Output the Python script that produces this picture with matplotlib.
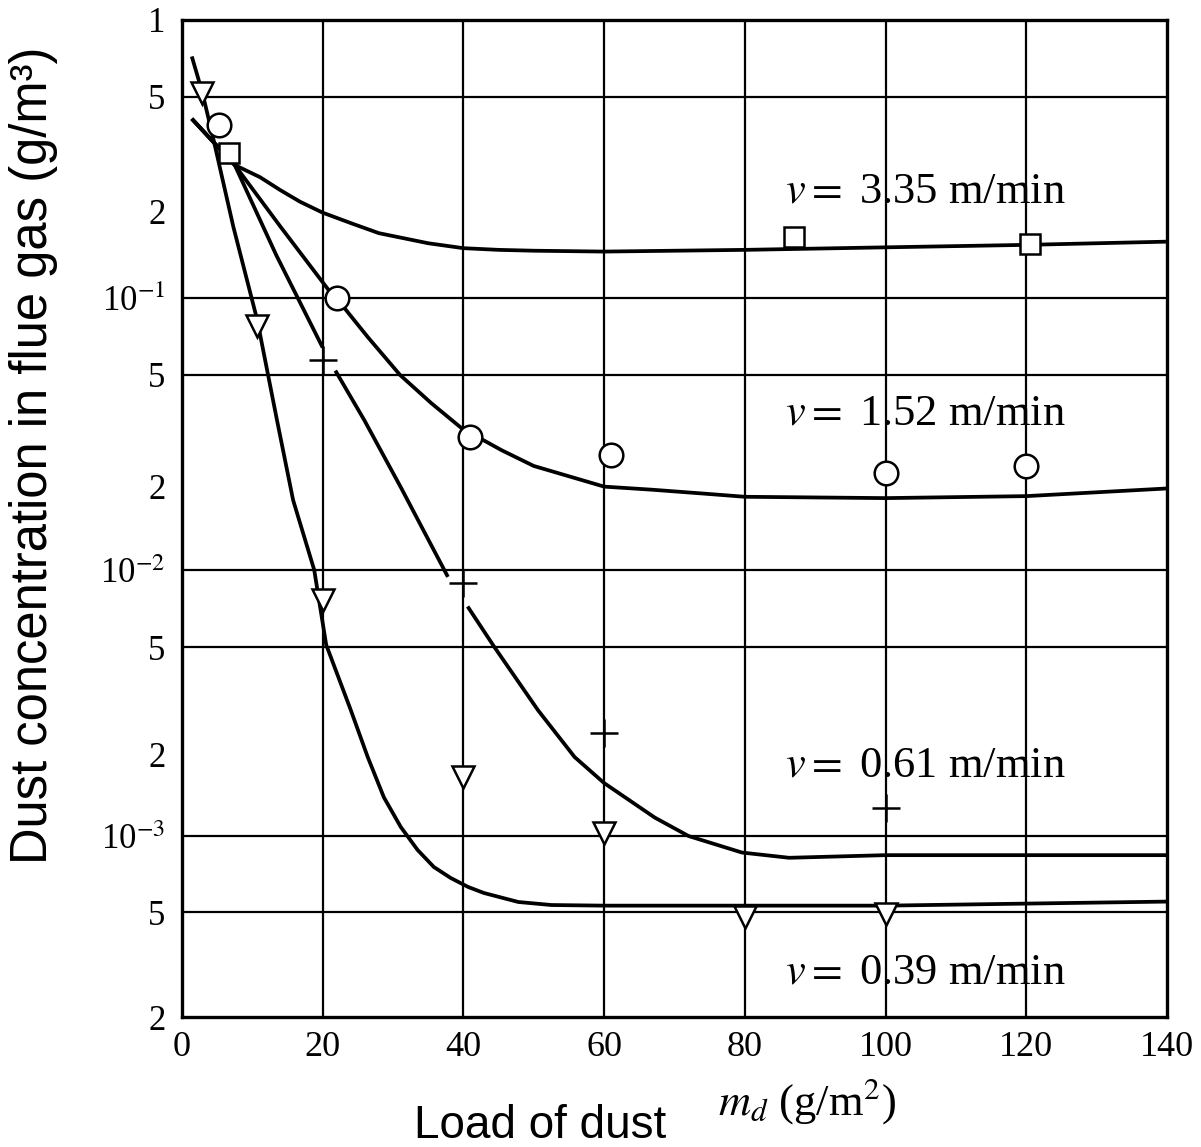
import numpy as np
import matplotlib
matplotlib.use('Agg')
import matplotlib.pyplot as plt

plt.rcParams['mathtext.fontset'] = 'stix'
SERIF = 'Liberation Serif'
SANS = 'Liberation Sans'

# curves (x = load of dust g/m2, y = concentration g/m3)
x_335 = [1.4, 7.5, 11.1, 14, 16.8, 20, 24.3, 28, 35, 40, 45, 50, 60, 80, 100, 120, 140]
y_335 = [0.42, 0.29, 0.263, 0.237, 0.216, 0.198, 0.181, 0.168, 0.155, 0.149, 0.147, 0.146,
         0.145, 0.147, 0.150, 0.153, 0.157]

x_152 = [1.4, 7.5, 14, 21.7, 23, 26.4, 31, 35.4, 39.7, 45.4, 50, 60, 66.8, 74, 80, 100, 120, 140]
y_152 = [0.42, 0.29, 0.177, 0.1, 0.092, 0.0704, 0.05, 0.0397, 0.0323, 0.0269, 0.0236, 0.0199,
         0.0194, 0.0188, 0.0183, 0.0181, 0.0184, 0.0196]

# nan = break in the drawn line
x_061 = [1.4, 7.5, 13.4, 20, np.nan, 21.8, 25.9, 31.1, 37.8, np.nan,
         40.6, 44.4, 50.6, 55.8, 60, 67.2, 72, 79.6, 86.3, 100, 120, 140]
y_061 = [0.42, 0.29, 0.141, 0.064, np.nan, 0.052, 0.0345, 0.0198, 0.0094, np.nan,
         0.0072, 0.005, 0.00292, 0.00196, 0.00157, 0.00117, 0.001, 0.00086, 0.00082, 0.00084,
         0.00084, 0.00084]

x_039 = [1.4, 2.9, 4.4, 7.3, 10.7, 13.5, 15.8, 18.8, 20.5, 24, 26.4, 28.7, 31.1, 33.5, 35.8,
         38.2, 40.7, 42.9, 47.8, 52.5, 60, 80, 100, 120, 140]
y_039 = [0.72, 0.52, 0.363, 0.177, 0.082, 0.0345, 0.0178, 0.01, 0.0051, 0.00292, 0.00196,
         0.00139, 0.00108, 0.00088, 0.000754, 0.000682, 0.000628, 0.000595, 0.000548, 0.000533,
         0.00053, 0.00053, 0.00053, 0.00054, 0.00055]

# measured points
sq_x = [6.7, 87, 120.5]
sq_y = [0.32, 0.163, 0.154]
circ_x = [5.3, 22, 41, 61, 100, 120]
circ_y = [0.40, 0.1, 0.03, 0.0258, 0.0222, 0.0236]
plus_x = [20, 40, 60, 100]
plus_y = [0.057, 0.0089, 0.0024, 0.00127]
tri_x = [2.9, 10.7, 20, 40, 60, 80, 100]
tri_y = [0.52, 0.078, 0.0076, 0.00165, 0.00103, 0.00048, 0.00049]

labels = ['3.35', '1.52', '0.61', '0.39']
label_y = [0.234, 0.0365, 0.00183, 0.000296]

ytick_vals = [1, 0.5, 0.2, 0.1, 0.05, 0.02, 0.01, 0.005, 0.002, 0.001, 0.0005, 0.0002]
ytick_labels = ['1', '5', '2', r'10$^{-1}$', '5', '2', r'10$^{-2}$', '5', '2', r'10$^{-3}$', '5', '2']
hgrid = [0.5, 0.1, 0.05, 0.01, 0.005, 0.001, 0.0005]
xticks = [0, 20, 40, 60, 80, 100, 120, 140]

# the printed log paper is not quite uniform: piecewise log scale through its grid lines
knot_val = np.log10([2e-4, 5e-4, 1e-3, 5e-3, 1e-2, 5e-2, 1e-1, 5e-1, 1])
knot_pos = -np.array([1017, 912, 836, 647, 570, 375, 298, 97, 20], dtype=float)


def fwd(y):
    with np.errstate(divide='ignore', invalid='ignore'):
        ly = np.log10(np.asarray(y, dtype=float))
    return np.interp(ly, knot_val, knot_pos, left=np.nan, right=np.nan)


def inv(p):
    return 10 ** np.interp(p, knot_pos, knot_val)


fig = plt.figure(figsize=(12.01, 11.47), dpi=100)
ax = fig.add_axes([0.1515, 0.1133, 0.9717 - 0.1515, 0.9826 - 0.1133])
ax.set_yscale('function', functions=(fwd, inv))
ax.set_xlim(0, 140)
ax.set_ylim(2e-4, 1)

for y in hgrid:
    ax.axhline(y, color='black', lw=1.6, zorder=1)
for x in xticks[1:-1]:
    ax.axvline(x, color='black', lw=1.6, zorder=1)

lw = 2.7
for xs, ys in [(x_335, y_335), (x_152, y_152), (x_061, y_061), (x_039, y_039)]:
    ax.plot(xs, ys, color='black', lw=lw, zorder=2, solid_capstyle='butt')

mk = dict(color='black', linestyle='none', markerfacecolor='white', markeredgewidth=1.8, zorder=3)
ax.plot(sq_x, sq_y, marker='s', markersize=14, **mk)
ax.plot(circ_x, circ_y, marker='o', markersize=17, **mk)
ax.plot(tri_x, tri_y, marker='v', markersize=16, **mk)
ax.plot(plus_x, plus_y, marker='+', markersize=20, color='black', linestyle='none',
        markeredgewidth=1.8, zorder=3)

for lab, y in zip(labels, label_y):
    ax.text(85.7, y, r'$v=$ ' + lab + ' m/min', fontsize=32, family=SERIF,
            ha='left', va='center', zorder=4)

for s in ax.spines.values():
    s.set_linewidth(2.4)

ax.set_yticks(ytick_vals)
ax.set_yticklabels(ytick_labels, family=SERIF, fontsize=25)
ax.set_yticks([0.2, 0.02, 0.002], minor=True)
ax.set_yticklabels([], minor=True)
ax.tick_params(axis='y', which='major', length=0, pad=12)
ax.tick_params(axis='y', which='minor', direction='in', length=14, width=1.5)
ax.set_xticks(xticks)
ax.set_xticklabels([str(v) for v in xticks], family=SERIF, fontsize=26)
ax.tick_params(axis='x', which='both', length=0, pad=10)

fig.text(0.0275, 0.603, 'Dust concentration in flue gas (g/m³)', family=SANS, fontsize=36.5,
         rotation=90, ha='center', va='center')
fig.text(0.4496, 0.008, 'Load of dust', family=SANS, fontsize=33, ha='center', va='baseline')
fig.text(0.598, 0.028, r'$m_d$ (g/m$^2$)', family=SERIF, fontsize=32, ha='left', va='baseline')

fig.savefig('out.png', dpi=100)
